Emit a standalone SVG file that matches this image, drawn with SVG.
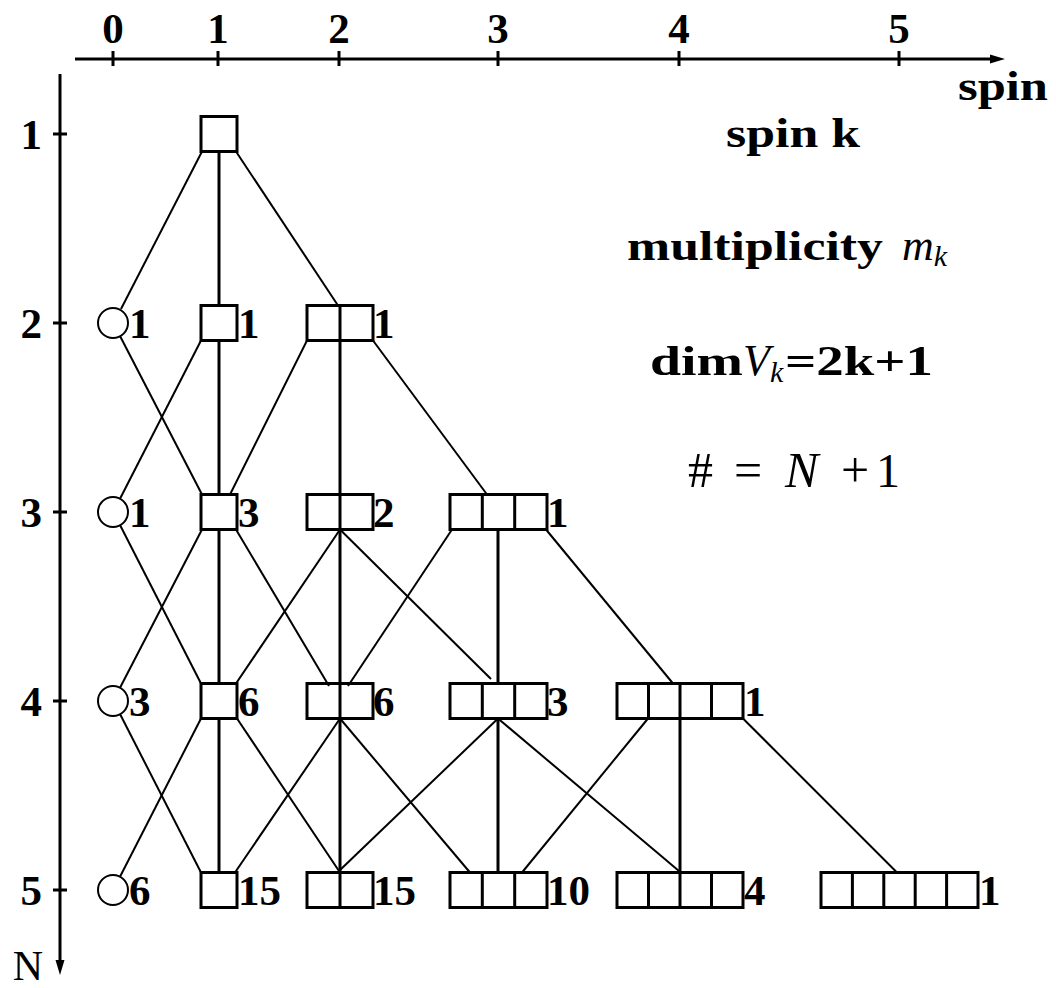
<svg xmlns="http://www.w3.org/2000/svg" width="1056" height="988" viewBox="0 0 1056 988">
<style>
.ax{stroke:#000;stroke-width:3;fill:none}
.box{fill:none;stroke:#000;stroke-width:3}
.circ{fill:none;stroke:#000;stroke-width:2}
#connectors line{stroke:#000;stroke-width:2}
#connectors line.v{stroke-width:3}
.b{font-family:"Liberation Serif",serif;font-weight:bold;font-size:43px;fill:#000}
.r{font-family:"Liberation Serif",serif;font-size:44px;fill:#000}
.it{font-style:italic;font-weight:normal}
.sub{font-family:"Liberation Serif",serif;font-style:italic;font-weight:normal;font-size:30px}
</style>
<rect width="1056" height="988" fill="#fff"/>
<g id="axes">
<line class="ax" x1="75" y1="59" x2="992" y2="59"/>
<polygon points="1005,59 990,54.5 990,63.5" fill="#000"/>
<line class="ax" x1="113" y1="51" x2="113" y2="66"/>
<line class="ax" x1="218" y1="51" x2="218" y2="66"/>
<line class="ax" x1="339" y1="51" x2="339" y2="66"/>
<line class="ax" x1="498" y1="51" x2="498" y2="66"/>
<line class="ax" x1="679" y1="51" x2="679" y2="66"/>
<line class="ax" x1="899" y1="51" x2="899" y2="66"/>
<text class="b" x="113" y="43" text-anchor="middle">0</text>
<text class="b" x="218" y="43" text-anchor="middle">1</text>
<text class="b" x="339" y="43" text-anchor="middle">2</text>
<text class="b" x="498" y="43" text-anchor="middle">3</text>
<text class="b" x="679" y="43" text-anchor="middle">4</text>
<text class="b" x="899" y="43" text-anchor="middle">5</text>
<text class="b" x="958" y="100" textLength="90" lengthAdjust="spacingAndGlyphs">spin</text>
<line class="ax" x1="60" y1="74" x2="60" y2="962"/>
<polygon points="60,975 55.5,960 64.5,960" fill="#000"/>
<line class="ax" x1="53" y1="134" x2="67" y2="134"/>
<line class="ax" x1="53" y1="323" x2="67" y2="323"/>
<line class="ax" x1="53" y1="512" x2="67" y2="512"/>
<line class="ax" x1="53" y1="701" x2="67" y2="701"/>
<line class="ax" x1="53" y1="890" x2="67" y2="890"/>
<text class="b" x="42" y="149" text-anchor="end">1</text>
<text class="b" x="42" y="338" text-anchor="end">2</text>
<text class="b" x="42" y="527" text-anchor="end">3</text>
<text class="b" x="42" y="716" text-anchor="end">4</text>
<text class="b" x="42" y="905" text-anchor="end">5</text>
<text class="r" x="28" y="980" text-anchor="middle" style="font-size:42px">N</text>
</g>
<g id="legend">
<text class="b" x="726" y="147" textLength="134" lengthAdjust="spacingAndGlyphs">spin k</text>
<text class="b" x="627" y="260" textLength="256" lengthAdjust="spacingAndGlyphs">multiplicity</text>
<text class="r it" x="902" y="260">m<tspan class="sub" dy="6">k</tspan></text>
<text class="b" x="650" y="375"><tspan textLength="93" lengthAdjust="spacingAndGlyphs">dim</tspan><tspan class="r it" x="743">V</tspan><tspan class="sub" dy="7">k</tspan><tspan x="785" y="375" textLength="148" lengthAdjust="spacingAndGlyphs">=2k+1</tspan></text>
<text class="r" y="487" style="font-size:50px"><tspan x="688">#</tspan><tspan x="734">=</tspan><tspan class="it" x="785">N</tspan><tspan x="841">+</tspan><tspan x="876" style="font-size:48px">1</tspan></text>
</g>
<g id="connectors">
<line x1="202" y1="151.5" x2="121" y2="309"/>
<line class="v" x1="219" y1="151.5" x2="219" y2="305.5"/>
<line x1="236" y1="151.5" x2="338" y2="305.5"/>
<line x1="120" y1="336" x2="202" y2="494.5"/>
<line x1="201" y1="340.5" x2="120" y2="498.7"/>
<line class="v" x1="219" y1="340.5" x2="219" y2="494.5"/>
<line x1="307" y1="340.5" x2="230" y2="494.5"/>
<line class="v" x1="340" y1="340.5" x2="340" y2="494.5"/>
<line x1="373" y1="340.5" x2="487" y2="494.5"/>
<line x1="120" y1="525" x2="201" y2="683.5"/>
<line x1="202" y1="529.5" x2="120" y2="687.7"/>
<line class="v" x1="219" y1="529.5" x2="219" y2="683.5"/>
<line x1="236" y1="529.5" x2="329" y2="686"/>
<line x1="340" y1="529.5" x2="236" y2="683.5"/>
<line class="v" x1="340" y1="529.5" x2="340" y2="683.5"/>
<line x1="340" y1="529.5" x2="491" y2="679"/>
<line x1="452" y1="529.5" x2="348" y2="686"/>
<line class="v" x1="498" y1="529.5" x2="498" y2="683.5"/>
<line x1="546" y1="529.5" x2="673" y2="683.5"/>
<line x1="120" y1="714" x2="201" y2="872.5"/>
<line x1="201" y1="718.5" x2="120" y2="876.7"/>
<line class="v" x1="219" y1="718.5" x2="219" y2="872.5"/>
<line x1="237" y1="718.5" x2="339" y2="871"/>
<line x1="340" y1="718.5" x2="235" y2="872.5"/>
<line class="v" x1="340" y1="718.5" x2="340" y2="872.5"/>
<line x1="340" y1="718.5" x2="470" y2="872.5"/>
<line x1="498" y1="718.5" x2="339" y2="871"/>
<line class="v" x1="498" y1="718.5" x2="498" y2="872.5"/>
<line x1="498" y1="718.5" x2="679" y2="871"/>
<line x1="648" y1="718.5" x2="522" y2="872.5"/>
<line class="v" x1="680" y1="718.5" x2="680" y2="872.5"/>
<line x1="743" y1="718.5" x2="897" y2="872.5"/>
</g>
<g id="n1k1"><rect class="box" x="201" y="116.5" width="36" height="35"/></g>
<g id="n2k0"><circle class="circ" cx="113" cy="323" r="15"/><text class="b" x="129" y="338">1</text></g>
<g id="n2k1"><rect class="box" x="201" y="305.5" width="36" height="35"/><text class="b" x="238" y="338">1</text></g>
<g id="n2k2"><rect class="box" x="307" y="305.5" width="66" height="35"/><line class="box" x1="340" y1="305.5" x2="340" y2="340.5"/><text class="b" x="373" y="338">1</text></g>
<g id="n3k0"><circle class="circ" cx="113" cy="512" r="15"/><text class="b" x="129" y="527">1</text></g>
<g id="n3k1"><rect class="box" x="201" y="494.5" width="36" height="35"/><text class="b" x="238" y="527">3</text></g>
<g id="n3k2"><rect class="box" x="307" y="494.5" width="66" height="35"/><line class="box" x1="340" y1="494.5" x2="340" y2="529.5"/><text class="b" x="373" y="527">2</text></g>
<g id="n3k3"><rect class="box" x="450" y="494.5" width="97" height="35"/><path class="box" d="M482.3,494.5V529.5M514.7,494.5V529.5"/><text class="b" x="547" y="527">1</text></g>
<g id="n4k0"><circle class="circ" cx="113" cy="701" r="15"/><text class="b" x="129" y="716">3</text></g>
<g id="n4k1"><rect class="box" x="201" y="683.5" width="36" height="35"/><text class="b" x="238" y="716">6</text></g>
<g id="n4k2"><rect class="box" x="307" y="683.5" width="66" height="35"/><line class="box" x1="340" y1="683.5" x2="340" y2="718.5"/><text class="b" x="373" y="716">6</text></g>
<g id="n4k3"><rect class="box" x="450" y="683.5" width="97" height="35"/><path class="box" d="M482.3,683.5V718.5M514.7,683.5V718.5"/><text class="b" x="547" y="716">3</text></g>
<g id="n4k4"><rect class="box" x="617" y="683.5" width="126" height="35"/><path class="box" d="M648.5,683.5V718.5M680,683.5V718.5M711.5,683.5V718.5"/><text class="b" x="744" y="716">1</text></g>
<g id="n5k0"><circle class="circ" cx="113" cy="890" r="15"/><text class="b" x="129" y="905">6</text></g>
<g id="n5k1"><rect class="box" x="201" y="872.5" width="36" height="35"/><text class="b" x="238" y="905">15</text></g>
<g id="n5k2"><rect class="box" x="307" y="872.5" width="66" height="35"/><line class="box" x1="340" y1="872.5" x2="340" y2="907.5"/><text class="b" x="373" y="905">15</text></g>
<g id="n5k3"><rect class="box" x="450" y="872.5" width="97" height="35"/><path class="box" d="M482.3,872.5V907.5M514.7,872.5V907.5"/><text class="b" x="547" y="905">10</text></g>
<g id="n5k4"><rect class="box" x="617" y="872.5" width="126" height="35"/><path class="box" d="M648.5,872.5V907.5M680,872.5V907.5M711.5,872.5V907.5"/><text class="b" x="744" y="905">4</text></g>
<g id="n5k5"><rect class="box" x="821" y="872.5" width="157" height="35"/><path class="box" d="M852.4,872.5V907.5M883.8,872.5V907.5M915.2,872.5V907.5M946.6,872.5V907.5"/><text class="b" x="979" y="905">1</text></g>
</svg>
